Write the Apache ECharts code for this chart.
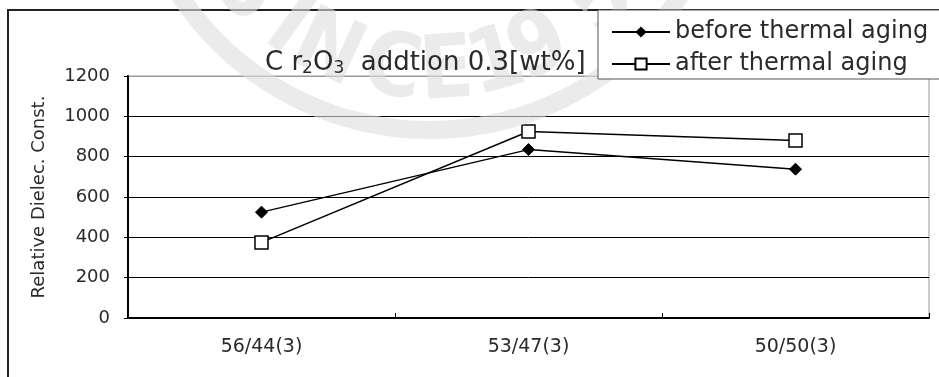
<!DOCTYPE html>
<html><head><meta charset="utf-8">
<script src="https://cdn.jsdelivr.net/npm/echarts@6/dist/echarts.min.js"></script>
<style>html,body{margin:0;padding:0;background:#fff}#c{width:939px;height:377px}</style>
</head><body><div id="c"></div>
<script>
const categories = ['56/44(3)', '53/47(3)', '50/50(3)'];
const beforeAging = [525, 835, 738];
const afterAging = [375, 925, 880];
const seriesNames = ['before thermal aging', 'after thermal aging'];
const yTicks = { min: 0, max: 1200, interval: 200 };

// faint background watermark (decoration only)
const wmChars = ['S', 'I', 'N', 'C', 'E', '1', '9', '5', '2'];
const wmX = [245, 287, 327, 392, 447, 497, 540, 603, 660];

const FONT = 'DejaVu Sans';
const TXT = '#2a2a2a';
const WM = 'rgba(222,222,222,0.6)';
const cx = 430, cy = -170, rText = 245, rRing = 300;
const wm = wmChars.map((ch, i) => {
  const phi = Math.asin(Math.max(-0.95, Math.min(0.95, (wmX[i] - cx) / rText)));
  return {
    type: 'text', silent: true, z: 5,
    x: cx + rText * Math.sin(phi), y: cy + rText * Math.cos(phi),
    rotation: phi,
    style: { text: ch, fill: WM, font: 'bold 88px "DejaVu Sans Condensed", "DejaVu Sans"', align: 'center', verticalAlign: 'middle' }
  };
});
wm.push({ type: 'arc', silent: true, z: 5, shape: { cx: cx, cy: cy, r: rRing, startAngle: Math.PI / 2 - 1.0, endAngle: Math.PI / 2 + 1.0 }, style: { fill: 'none', stroke: WM, lineWidth: 18 } });

const chart = echarts.init(document.getElementById('c'), null, { renderer: 'canvas' });
chart.setOption({
  animation: false,
  backgroundColor: '#fff',
  textStyle: { fontFamily: FONT },
  grid: { left: 128, right: 10, top: 76, bottom: 59, show: true, borderColor: '#999', borderWidth: 1, backgroundColor: 'transparent' },
  graphic: [
    { type: 'rect', silent: true, z: 0, shape: { x: 8, y: 10, width: 1200, height: 1000 }, style: { fill: 'none', stroke: '#222', lineWidth: 2 } }
  ].concat(wm),
  title: {
    text: 'C r{s|2}O{s|3}  addtion 0.3[wt%]',
    left: 260, top: 45, z: 10,
    textStyle: {
      fontFamily: FONT, fontSize: 26, fontWeight: 'normal', color: TXT,
      rich: { s: { fontFamily: FONT, fontSize: 17, color: TXT, padding: [10, 0, 0, 0] } }
    }
  },
  legend: {
    data: seriesNames,
    orient: 'vertical',
    left: 598, top: 10, z: 10,
    padding: [10, 90, 3, 13],
    itemGap: 8,
    itemWidth: 58, itemHeight: 14,
    borderColor: '#555', borderWidth: 1,
    backgroundColor: '#fff',
    textStyle: { fontFamily: FONT, fontSize: 24, color: TXT }
  },
  xAxis: {
    type: 'category',
    data: categories,
    boundaryGap: true,
    axisLine: { lineStyle: { color: '#000', width: 2 } },
    axisTick: { show: true, inside: true, length: 5, lineStyle: { color: '#000' } },
    axisLabel: { color: TXT, fontSize: 19, margin: 20, fontFamily: FONT },
    splitLine: { show: false }
  },
  yAxis: {
    type: 'value',
    min: yTicks.min, max: yTicks.max, interval: yTicks.interval,
    name: 'Relative Dielec. Const.',
    nameLocation: 'middle', nameGap: 80, nameRotate: 90,
    nameTextStyle: { fontFamily: FONT, fontSize: 18, color: TXT },
    axisLine: { show: true, lineStyle: { color: '#000', width: 2 } },
    axisTick: { show: true, length: 4, lineStyle: { color: '#000' } },
    axisLabel: { color: TXT, fontSize: 18, margin: 18, fontFamily: FONT, formatter: v => String(v) },
    splitLine: { show: true, lineStyle: { color: ['#000', '#000', '#000', '#000', '#000', '#000', '#999'], width: 1 } }
  },
  series: [
    {
      name: seriesNames[0], type: 'line', data: beforeAging,
      symbol: 'diamond', symbolSize: 12,
      lineStyle: { color: '#000', width: 1.5 },
      itemStyle: { color: '#000', borderColor: '#000' }
    },
    {
      name: seriesNames[1], type: 'line', data: afterAging,
      symbol: 'rect', symbolSize: 13,
      lineStyle: { color: '#000', width: 1.5 },
      itemStyle: { color: '#fff', borderColor: '#000', borderWidth: 1.5 }
    }
  ]
});
</script></body></html>
